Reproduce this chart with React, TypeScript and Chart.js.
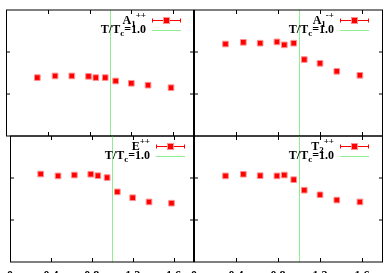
import React, { useEffect, useRef } from "react";
import { Chart, registerables } from "chart.js";
Chart.register(...registerables);

const W = 389;
const H = 273;

// T/Tc values (x) shared by all channels
const tempRatio = [0.30, 0.47, 0.63, 0.79, 0.86, 0.95, 1.05, 1.20, 1.36, 1.58];
// channel values
const a1pp = [1.39, 1.43, 1.43, 1.42, 1.39, 1.39, 1.31, 1.255, 1.21, 1.15];
const a1mp = [2.19, 2.23, 2.21, 2.24, 2.17, 2.21, 1.82, 1.73, 1.54, 1.445];
const epp = [2.095, 2.05, 2.07, 2.09, 2.055, 2.01, 1.67, 1.53, 1.43, 1.40];
const t2pp = [2.05, 2.09, 2.055, 2.05, 2.07, 1.96, 1.71, 1.60, 1.475, 1.43];

const xTickValues = [0, 0.4, 0.8, 1.2, 1.6];
const xTickLabels = ["0", "0.4", "0.8", "1.2", "1.6"];
const yTickValues = [1, 2];
const xMin = 0, xMax = 1.8, yMin = 0, yMax = 3;
const tcLine = 1.0;
const tcLabel = ["T/T", "c", "=1.0"];

type PanelCfg = {
  base: string; sub: string; sup: string; values: number[];
  rect: [number, number, number, number]; showX: boolean;
};

const panels: PanelCfg[] = [
  { base: "A", sub: "1", sup: "++", values: a1pp, rect: [6, 10, 194, 136], showX: false },
  { base: "A", sub: "1", sup: "-+", values: a1mp, rect: [194, 10, 383, 136], showX: false },
  { base: "E", sub: "", sup: "++", values: epp, rect: [6, 136, 194, 262], showX: true },
  { base: "T", sub: "2", sup: "++", values: t2pp, rect: [194, 136, 383, 262], showX: true },
];

const RED = "#ff0000";
const GREEN = "rgb(144,238,144)";
const BIG = 'bold 12px "Liberation Serif"';
const SMALL = 'bold 9px "Liberation Serif"';

function makePlugin(p: PanelCfg, idx: number) {
  return {
    id: "frame" + idx,
    beforeDatasetsDraw(chart: any) {
      const { ctx, chartArea } = chart;
      const x = Math.round(chart.scales.x.getPixelForValue(tcLine)) + 0.5;
      ctx.save();
      ctx.strokeStyle = GREEN;
      ctx.lineWidth = 1;
      ctx.beginPath();
      ctx.moveTo(x, chartArea.top);
      ctx.lineTo(x, chartArea.bottom);
      ctx.stroke();
      ctx.restore();
    },
    afterDraw(chart: any) {
      const { ctx, chartArea } = chart;
      const { left, top, right, bottom } = chartArea;
      const sx = chart.scales.x;
      const sy = chart.scales.y;
      ctx.save();
      ctx.strokeStyle = "#000";
      ctx.lineWidth = 1;
      // borders
      ctx.beginPath();
      ctx.moveTo(left, top); ctx.lineTo(right, top);
      ctx.moveTo(left, bottom); ctx.lineTo(right, bottom);
      ctx.stroke();
      ctx.beginPath();
      ctx.moveTo(Math.round(left) + 0.5, top); ctx.lineTo(Math.round(left) + 0.5, bottom);
      ctx.moveTo(Math.round(right) - 0.5, top); ctx.lineTo(Math.round(right) - 0.5, bottom);
      ctx.stroke();
      // inner ticks
      ctx.beginPath();
      xTickValues.forEach((v) => {
        if (v === xMin) return;
        const px = Math.round(sx.getPixelForValue(v)) + 0.5;
        ctx.moveTo(px, top); ctx.lineTo(px, top + 4);
        ctx.moveTo(px, bottom); ctx.lineTo(px, bottom - 4);
      });
      yTickValues.forEach((v) => {
        const py = sy.getPixelForValue(v);
        ctx.moveTo(left, py); ctx.lineTo(left + 4, py);
        ctx.moveTo(right, py); ctx.lineTo(right - 4, py);
      });
      ctx.stroke();

      // legend
      const rx = left + 140;
      ctx.fillStyle = "#000";
      ctx.textBaseline = "alphabetic";
      ctx.textAlign = "left";
      ctx.font = BIG;
      const wb = ctx.measureText(p.base).width;
      ctx.font = SMALL;
      const ws = p.sub ? ctx.measureText(p.sub).width : 0;
      const wp = ctx.measureText(p.sup).width;
      let x0 = rx - (wb + ws + wp);
      const b1 = top + 14;
      ctx.font = BIG;
      ctx.fillText(p.base, x0, b1);
      x0 += wb;
      ctx.font = SMALL;
      if (p.sub) { ctx.fillText(p.sub, x0, b1 + 3); x0 += ws; }
      ctx.fillText(p.sup, x0, b1 - 6);

      ctx.font = BIG;
      const w1 = ctx.measureText(tcLabel[0]).width;
      const w3 = ctx.measureText(tcLabel[2]).width;
      ctx.font = SMALL;
      const w2 = ctx.measureText(tcLabel[1]).width;
      let x1 = rx - (w1 + w2 + w3);
      const b2 = top + 23;
      ctx.font = BIG;
      ctx.fillText(tcLabel[0], x1, b2); x1 += w1;
      ctx.font = SMALL;
      ctx.fillText(tcLabel[1], x1, b2 + 3); x1 += w2;
      ctx.font = BIG;
      ctx.fillText(tcLabel[2], x1, b2);

      // sample: error bar
      const l0 = left + 146, l1 = left + 175;
      const ly = top + 10.5;
      ctx.strokeStyle = RED;
      ctx.beginPath();
      ctx.moveTo(l0, ly); ctx.lineTo(l1, ly);
      ctx.moveTo(l0 + 0.5, ly - 2); ctx.lineTo(l0 + 0.5, ly + 2);
      ctx.moveTo(l1 - 0.5, ly - 2); ctx.lineTo(l1 - 0.5, ly + 2);
      ctx.stroke();
      const mx = Math.round((l0 + l1) / 2);
      ctx.fillStyle = "#ff9090";
      ctx.fillRect(mx - 4, Math.round(ly) - 4, 7, 7);
      ctx.fillStyle = RED;
      ctx.fillRect(mx - 3, Math.round(ly) - 3, 5, 5);
      // sample: green line
      ctx.strokeStyle = GREEN;
      ctx.beginPath();
      ctx.moveTo(l0, top + 20.5); ctx.lineTo(l1, top + 20.5);
      ctx.stroke();
      ctx.restore();
    },
  };
}

function PanelChart({ p, idx }: { p: PanelCfg; idx: number }) {
  const ref = useRef<HTMLCanvasElement | null>(null);
  useEffect(() => {
    if (!ref.current) return;
    const [l, t, r, b] = p.rect;
    const chart = new Chart(ref.current, {
      type: "scatter",
      data: {
        datasets: [
          {
            data: tempRatio.map((x, i) => ({ x, y: p.values[i] })),
            pointStyle: "rect",
            pointRadius: 4,
            pointBackgroundColor: RED,
            pointBorderColor: "#ff9090",
            pointBorderWidth: 1,
            showLine: false,
          } as any,
        ],
      },
      options: {
        animation: false,
        responsive: false,
        events: [],
        layout: { padding: { left: l, top: t, right: W - r, bottom: p.showX ? 0 : H - b } },
        plugins: { legend: { display: false }, tooltip: { enabled: false } },
        scales: {
          x: {
            type: "linear",
            min: xMin,
            max: xMax,
            display: true,
            grid: { display: false, drawTicks: false },
            border: { display: false },
            afterBuildTicks: (s: any) => { s.ticks = xTickValues.map((v) => ({ value: v })); },
            afterFit: (s: any) => { s.height = p.showX ? H - b : 0; },
            ticks: {
              display: p.showX,
              autoSkip: false,
              maxRotation: 0,
              padding: 7,
              color: "#000",
              font: { family: '"Liberation Serif"', size: 12, weight: "bold" },
              callback: (_v: any, i: number) => xTickLabels[i],
            },
          },
          y: { type: "linear", min: yMin, max: yMax, display: false },
        },
      },
      plugins: [makePlugin(p, idx)],
    } as any);
    return () => chart.destroy();
  }, [p, idx]);
  return (
    <canvas
      ref={ref}
      width={W}
      height={H}
      style={{ position: "absolute", left: 0, top: 0, width: W, height: H }}
    />
  );
}

export default function App() {
  useEffect(() => {
    document.body.style.margin = "0";
    document.body.style.overflow = "hidden";
  }, []);
  return (
    <div style={{ position: "relative", width: W, height: H, background: "#fff" }}>
      {panels.map((p, i) => (
        <PanelChart key={i} p={p} idx={i} />
      ))}
    </div>
  );
}
